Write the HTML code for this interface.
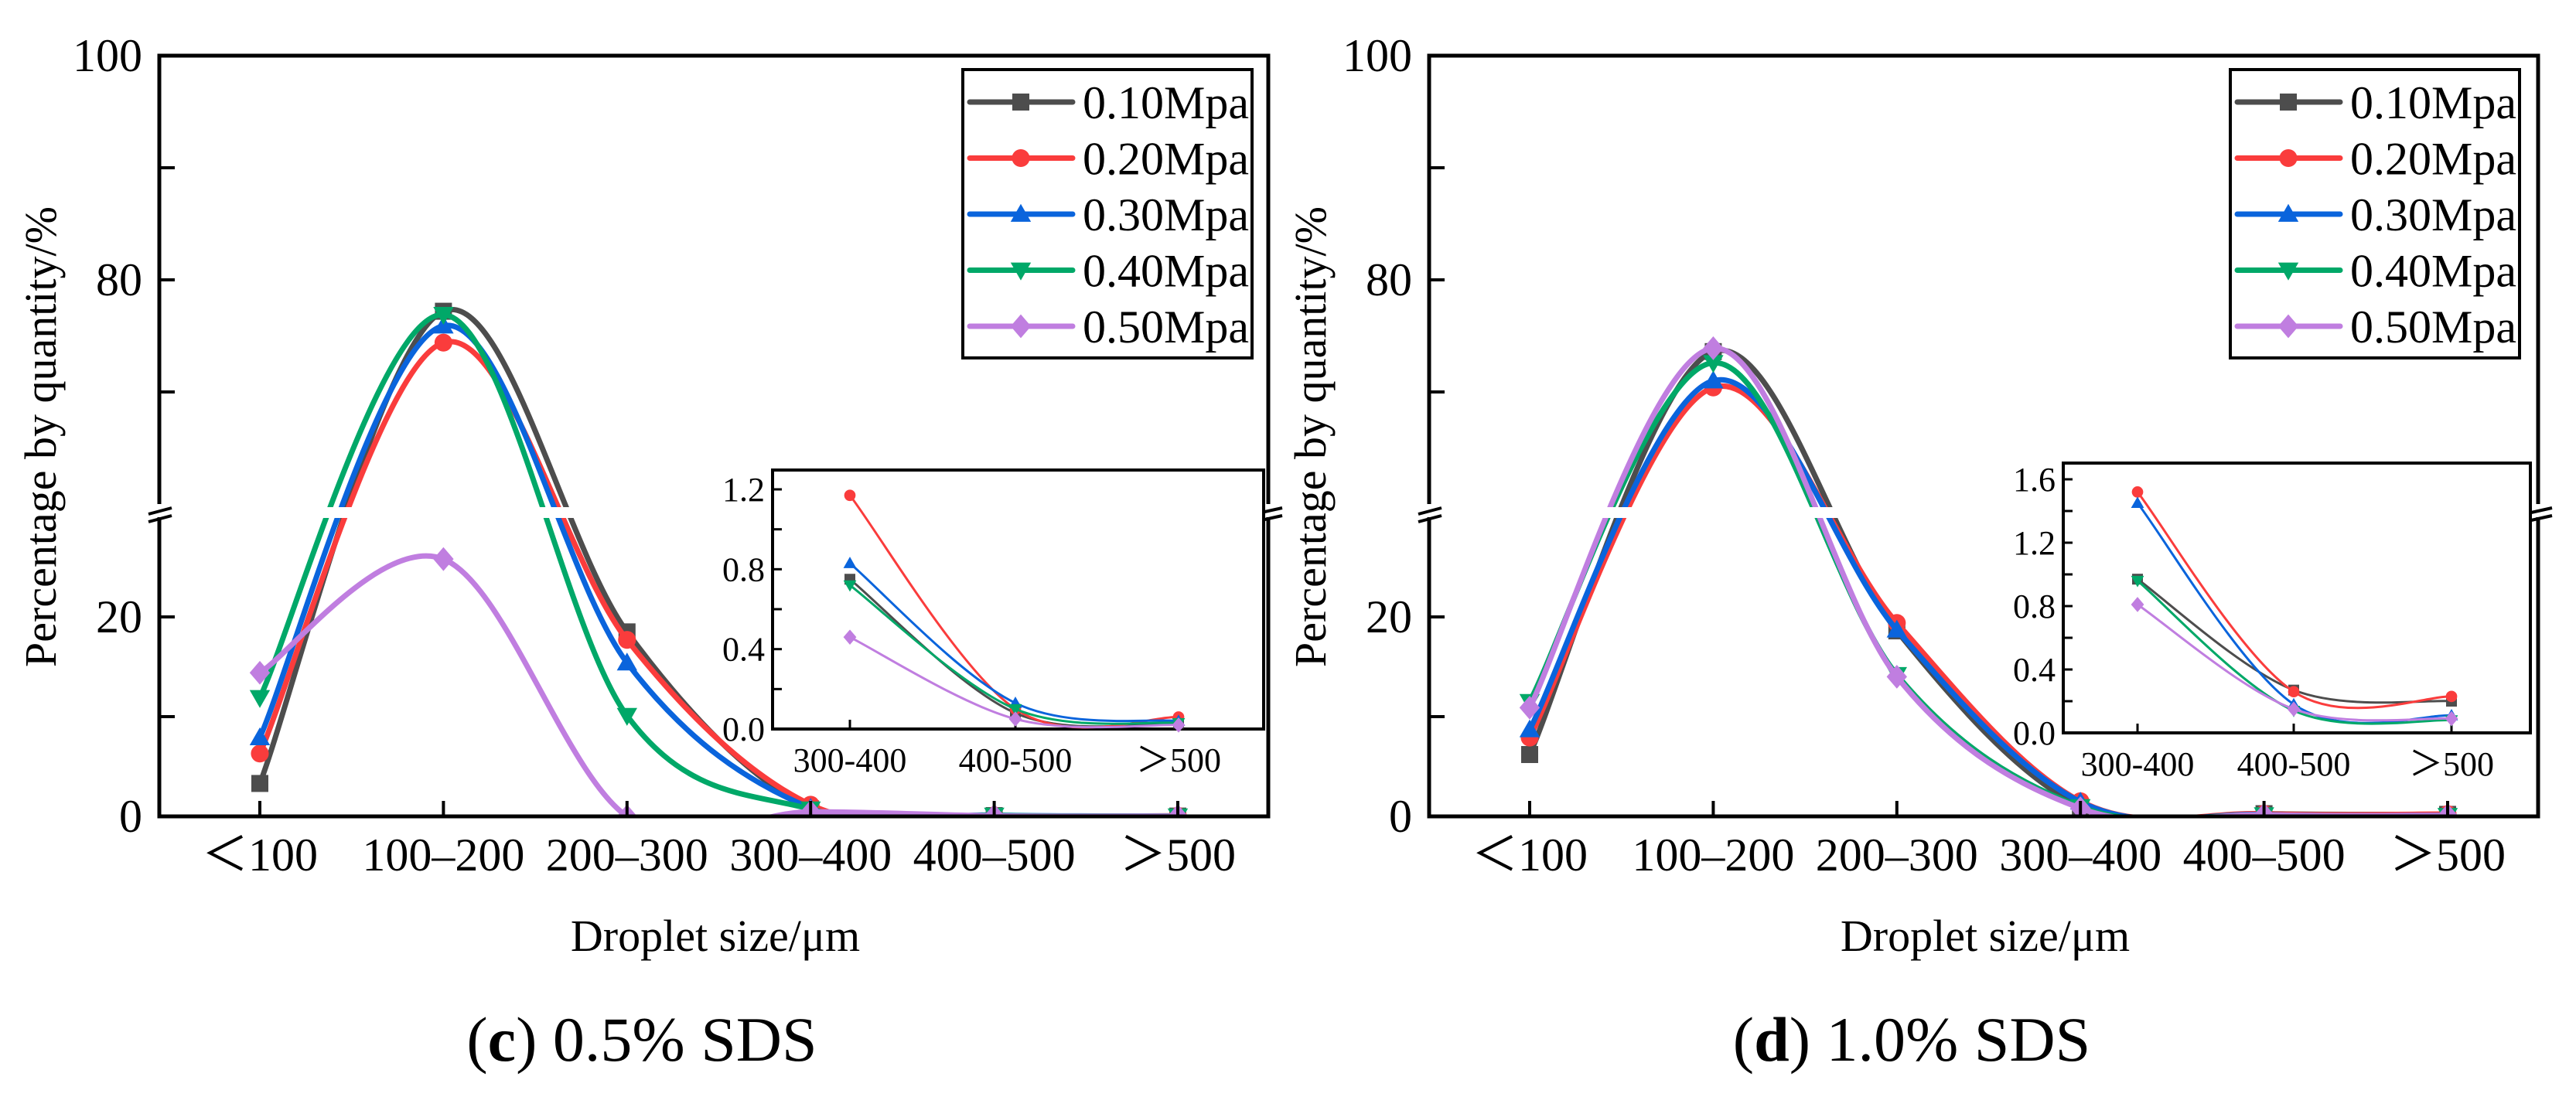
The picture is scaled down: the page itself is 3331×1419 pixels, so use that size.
<!DOCTYPE html>
<html><head><meta charset="utf-8"><style>
html,body{margin:0;padding:0;background:#fff;}
svg{display:block;font-family:"Liberation Serif",serif;}
</style></head><body>
<svg id="chart" width="3331" height="1419" viewBox="0 0 3331 1419" xmlns="http://www.w3.org/2000/svg"></svg>
<script>
const categories=["＜100","100–200","200–300","300–400","400–500","＞500"];
const insetCategories=["300-400","400-500","＞500"];
const seriesNames=["0.10Mpa","0.20Mpa","0.30Mpa","0.40Mpa","0.50Mpa"];
const yTicksMain=[0,20,80,100];
const yTicksInsetC=[0.0,0.4,0.8,1.2];
const yTicksInsetD=[0.0,0.4,0.8,1.2,1.6];
// panel (c) 0.5% SDS
const c010=[3.3,77.2,18.5,0.75,0.08,0.03];
const c020=[6.3,74.4,17.7,1.17,0.10,0.06];
const c030=[7.9,75.9,15.4,0.83,0.13,0.04];
const c040=[11.9,76.9,10.1,0.72,0.10,0.03];
const c050=[14.4,25.8,0.0,0.46,0.05,0.02];
// panel (d) 1.0% SDS
const d010=[6.2,73.6,18.6,0.97,0.27,0.20];
const d020=[7.9,70.4,19.4,1.52,0.26,0.23];
const d030=[8.7,71.0,18.7,1.45,0.18,0.11];
const d040=[11.5,72.6,14.2,0.96,0.14,0.08];
const d050=[10.9,73.9,14.0,0.81,0.15,0.09];

const colors=["#4d4d4d","#fa3c3c","#0a64dc","#00a868","#c07ee0"];
const shapes=["square","circle","up","down","diamond"];
const NS="http://www.w3.org/2000/svg";
const svg=document.getElementById('chart');
function mk(tag,attrs,parent){const e=document.createElementNS(NS,tag);for(const k in attrs)e.setAttribute(k,attrs[k]);(parent||svg).appendChild(e);return e;}
function crPath(pts){let d="M"+pts[0][0]+","+pts[0][1];for(let i=0;i<pts.length-1;i++){const p0=pts[i-1]||pts[i],p1=pts[i],p2=pts[i+1],p3=pts[i+2]||pts[i+1];const c1=[p1[0]+(p2[0]-p0[0])/6,p1[1]+(p2[1]-p0[1])/6];const c2=[p2[0]-(p3[0]-p1[0])/6,p2[1]-(p3[1]-p1[1])/6];d+=" C"+c1[0]+","+c1[1]+" "+c2[0]+","+c2[1]+" "+p2[0]+","+p2[1];}return d;}
function marker(g,shape,x,y,r,col){let e;
 if(shape==="square")e=mk('rect',{x:x-r,y:y-r,width:2*r,height:2*r,fill:col},g);
 else if(shape==="circle")e=mk('circle',{cx:x,cy:y,r:r*1.05,fill:col},g);
 else if(shape==="up")e=mk('polygon',{points:`${x},${y-r*1.2} ${x-r*1.2},${y+r*0.9} ${x+r*1.2},${y+r*0.9}`,fill:col},g);
 else if(shape==="down")e=mk('polygon',{points:`${x},${y+r*1.2} ${x-r*1.2},${y-r*0.9} ${x+r*1.2},${y-r*0.9}`,fill:col},g);
 else e=mk('polygon',{points:`${x},${y-r*1.4} ${x+r*1.2},${y} ${x},${y+r*1.4} ${x-r*1.2},${y}`,fill:col},g);
 return e;}
function yMain(v){if(v<=30)return 1056-v*12.9;if(v>=60)return 362-(v-80)*14.5;return 669-(v-30)/30*17;}

function panel(dx,series,letter,caption,inset,legDx,id){
 const g=mk('g',{transform:`translate(${dx},0)`});
 
 
 const x0=206,x1=1640,yTop=72,yBot=1056;
 const xCat=i=>336+i*237.4;
 const cp=mk('clipPath',{id:'clip'+id},g);mk('rect',{x:x0,y:yTop,width:x1-x0,height:yBot-yTop},cp);
 const cg=mk('g',{'clip-path':`url(#clip${id})`},g);
 series.forEach((s,si)=>{const pts=s.map((v,i)=>[xCat(i),yMain(v)]);
  const p=mk('path',{d:crPath(pts),fill:'none',stroke:colors[si],'stroke-width':7,'stroke-linejoin':'round'},cg);
  
  
  pts.forEach((pt,i)=>{const m=marker(cg,shapes[si],pt[0],pt[1],11,colors[si]);
   
   });});
 mk('rect',{x:x0+4,y:656,width:x1-x0-8,height:14,fill:'#fff'},g);
 const fr=mk('path',{d:`M${x0},652 V${yTop} H${x1} V652 M${x0},669 V${yBot} H${x1} V669`,fill:'none',stroke:'#000','stroke-width':5},g);
 
 
 mk('rect',{x:x0-12,y:653,width:24,height:15,fill:'#fff'},g);
 mk('rect',{x:x1-14,y:653,width:28,height:15,fill:'#fff'},g);
 [[x0-14,x0+16],[x1-18,x1+18]].forEach(([a,b])=>{
  mk('line',{x1:a,y1:665,x2:b,y2:657,stroke:'#000','stroke-width':4},g);
  mk('line',{x1:a,y1:675,x2:b,y2:667,stroke:'#000','stroke-width':4},g);});
 [10,70,90].forEach(v=>mk('line',{x1:x0,x2:x0+20,y1:yMain(v),y2:yMain(v),stroke:'#000','stroke-width':4},g));
 yTicksMain.forEach(v=>{const y=yMain(v);mk('line',{x1:x0,x2:x0+20,y1:y,y2:y,stroke:'#000','stroke-width':4},g);
  const t=mk('text',{x:x0-22,y:y+20,'text-anchor':'end','font-size':60},g);t.textContent=v;
  
  });
 categories.forEach((c,i)=>{const x=xCat(i);mk('line',{x1:x,x2:x,y1:yBot,y2:yBot-20,stroke:'#000','stroke-width':4},g);
  const t=mk('text',{x:x,y:1126,'text-anchor':'middle','font-size':60},g);t.textContent=c;
  
  });
 const yl=mk('text',{x:0,y:0,transform:'translate(72,565) rotate(-90)','text-anchor':'middle','font-size':58},g);yl.textContent="Percentage by quantity/%";
 
 
 const xl=mk('text',{x:925,y:1230,'text-anchor':'middle','font-size':58},g);xl.textContent="Droplet size/μm";
 
 
 const cap=mk('text',{x:830,y:1372,'text-anchor':'middle','font-size':82},g);
 
 
 const s0=mk('tspan',{},cap);s0.textContent="(";
 const b=mk('tspan',{'font-weight':'bold'},cap);b.textContent=letter;
 const s1=mk('tspan',{},cap);s1.textContent=")";
 const s2=mk('tspan',{},cap);s2.textContent=" "+caption;
 const lg=mk('g',{transform:`translate(${legDx},0)`},g);
 
 
 mk('rect',{x:1245,y:90,width:374,height:373,fill:'#fff',stroke:'#000','stroke-width':4},lg);
 seriesNames.forEach((n,i)=>{const y=132+i*72.5;
  const e=mk('g',{},lg);
  
  
  mk('line',{x1:1254,x2:1387,y1:y,y2:y,stroke:colors[i],'stroke-width':7,'stroke-linecap':'round'},e);
  marker(e,shapes[i],1320,y,11,colors[i]);
  const t=mk('text',{x:1400,y:y+21,'font-size':60},e);t.textContent=n;});
 const ig=mk('g',{},g);
 
 
 const {ix0,ix1,iy0,iy1,xs,ticks,max,ymax}=inset;
 const yI=v=>iy1-v/max*(iy1-ymax);
 mk('rect',{x:ix0,y:iy0,width:ix1-ix0,height:iy1-iy0,fill:'#fff',stroke:'#000','stroke-width':4},ig);
 const step=ticks[1]-ticks[0];
 for(let v=0;v<=max+1e-9;v+=step/2){const y=yI(v);mk('line',{x1:ix0,x2:ix0+12,y1:y,y2:y,stroke:'#000','stroke-width':3},ig);}
 ticks.forEach(v=>{const t=mk('text',{x:ix0-10,y:yI(v)+15,'text-anchor':'end','font-size':44},ig);t.textContent=v.toFixed(1);
  
  });
 insetCategories.forEach((c,i)=>{const x=xs[i];mk('line',{x1:x,x2:x,y1:iy1,y2:iy1-12,stroke:'#000','stroke-width':3},ig);
  const t=mk('text',{x:x,y:iy1+55,'text-anchor':'middle','font-size':44},ig);t.textContent=c;
  
  });
 series.forEach((s,si)=>{const pts=s.slice(3).map((v,i)=>[xs[i],yI(v)]);
  const p=mk('path',{d:crPath(pts),fill:'none',stroke:colors[si],'stroke-width':3},ig);
  
  
  pts.forEach(pt=>{const m=marker(ig,shapes[si],pt[0],pt[1],7,colors[si]);
   
   });});
}
panel(0,[c010,c020,c030,c040,c050],"c","0.5% SDS",{ix0:999,ix1:1634,iy0:608,iy1:943,xs:[1099,1313,1524],ticks:yTicksInsetC,max:1.2,ymax:633},0,'c');
panel(1642,[d010,d020,d030,d040,d050],"d","1.0% SDS",{ix0:1026,ix1:1630,iy0:599,iy1:948,xs:[1122,1324,1528],ticks:yTicksInsetD,max:1.6,ymax:620},-3,'d');
</script>
</body></html>
